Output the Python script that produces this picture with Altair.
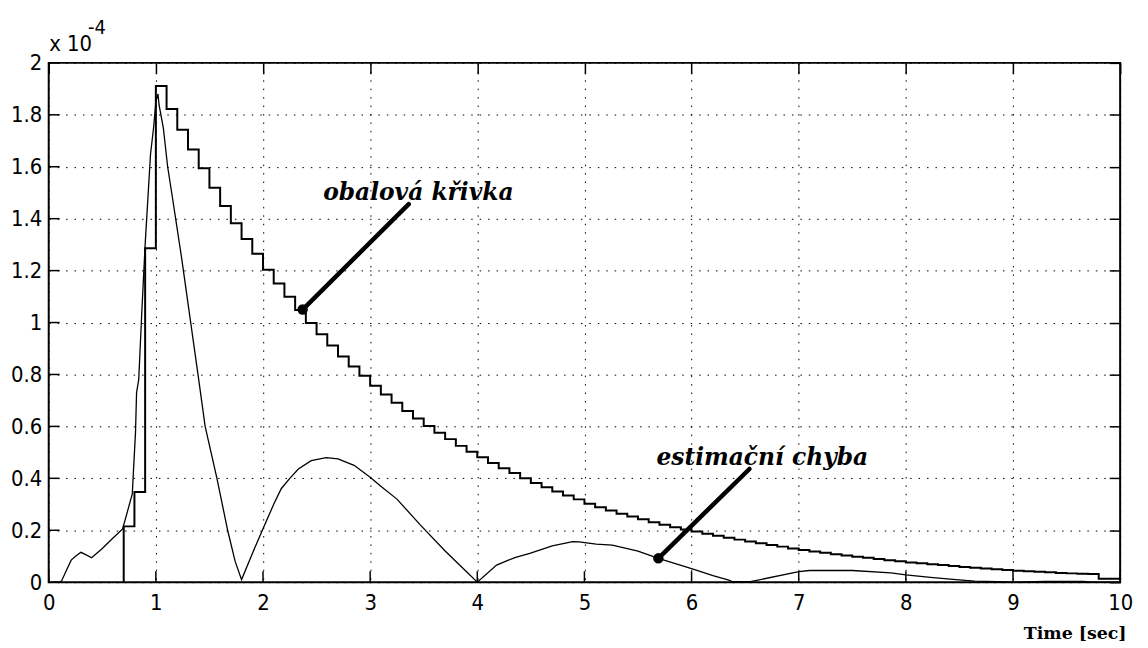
import altair as alt
import pandas as pd

# ---------------- data (values in units of 1e-4) -------------
env_t = [0.7,
         0.7, 0.8, 0.9, 1.0, 1.1, 1.2, 1.3, 1.4, 1.5, 1.6,
         1.7, 1.8, 1.9, 2.0, 2.1, 2.2, 2.3, 2.4, 2.5, 2.6,
         2.7, 2.8, 2.9, 3.0, 3.1, 3.2, 3.3, 3.4, 3.5, 3.6,
         3.7, 3.8, 3.9, 4.0, 4.1, 4.2, 4.3, 4.4, 4.5, 4.6,
         4.7, 4.8, 4.9, 5.0, 5.1, 5.2, 5.3, 5.4, 5.5, 5.6,
         5.7, 5.8, 5.9, 6.0, 6.1, 6.2, 6.3, 6.4, 6.5, 6.6,
         6.7, 6.8, 6.9, 7.0, 7.1, 7.2, 7.3, 7.4, 7.5, 7.6,
         7.7, 7.8, 7.9, 8.0, 8.1, 8.2, 8.3, 8.4, 8.5, 8.6,
         8.7, 8.8, 8.9, 9.0, 9.1, 9.2, 9.3, 9.4, 9.5, 9.6,
         9.7, 9.8, 9.9, 10.0]
env_v = [0.0,
         0.215, 0.347, 1.286, 1.911, 1.822, 1.742, 1.666, 1.594, 1.519, 1.449,
         1.382, 1.322, 1.265, 1.203, 1.150, 1.099, 1.048, 0.998, 0.955, 0.912,
         0.869, 0.831, 0.795, 0.757, 0.723, 0.691, 0.659, 0.630, 0.602, 0.576,
         0.551, 0.525, 0.502, 0.481, 0.459, 0.439, 0.421, 0.400, 0.382, 0.366,
         0.349, 0.334, 0.319, 0.302, 0.289, 0.276, 0.264, 0.253, 0.242, 0.231,
         0.221, 0.212, 0.203, 0.195, 0.187, 0.179, 0.171, 0.164, 0.157, 0.150,
         0.143, 0.137, 0.130, 0.124, 0.118, 0.113, 0.108, 0.103, 0.098, 0.094,
         0.089, 0.085, 0.081, 0.076, 0.073, 0.069, 0.066, 0.062, 0.059, 0.056,
         0.053, 0.050, 0.047, 0.044, 0.042, 0.040, 0.038, 0.035, 0.034, 0.033,
         0.032, 0.013, 0.013, 0.013]

err_t = [0.10, 0.12, 0.17, 0.21, 0.25, 0.30, 0.35, 0.40, 0.50, 0.60,
         0.69, 0.78, 0.79, 0.81, 0.82, 0.84, 0.87, 0.90, 0.95, 0.98,
         1.00, 1.02, 1.03, 1.07, 1.11, 1.15, 1.24, 1.40, 1.46, 1.57,
         1.67, 1.74, 1.80, 1.90, 2.00, 2.10, 2.17, 2.25, 2.33, 2.45,
         2.59, 2.70, 2.85, 3.00, 3.10, 3.25, 3.47, 3.70, 3.90, 4.00,
         4.18, 4.35, 4.49, 4.70, 4.89, 4.95, 5.11, 5.26, 5.50, 5.69,
         6.00, 6.20, 6.34, 6.38, 6.55, 7.00, 7.10, 7.50, 7.86, 8.00,
         8.23, 8.44, 8.64, 8.85, 9.00, 9.30, 9.65, 9.75, 10.0]
err_v = [0.000, 0.005, 0.050, 0.085, 0.100, 0.115, 0.105, 0.094, 0.130, 0.170,
         0.205, 0.340, 0.420, 0.576, 0.730, 0.780, 1.050, 1.300, 1.647, 1.755,
         1.850, 1.880, 1.838, 1.749, 1.600, 1.494, 1.250, 0.780, 0.600, 0.400,
         0.200, 0.080, 0.010, 0.110, 0.206, 0.300, 0.360, 0.400, 0.436, 0.468,
         0.480, 0.475, 0.450, 0.404, 0.370, 0.320, 0.220, 0.120, 0.040, 0.000,
         0.066, 0.095, 0.111, 0.140, 0.156, 0.155, 0.147, 0.143, 0.120, 0.092,
         0.052, 0.025, 0.009, 0.002, 0.002, 0.041, 0.045, 0.045, 0.036, 0.028,
         0.019, 0.011, 0.004, 0.002, 0.000, 0.003, 0.003, 0.000, 0.000]

ann_labels = ["obalová křivka", "estimační chyba"]
ann_text_x = [3.45, 6.66]
ann_text_y = [1.50, 0.48]
arrow_x0 = [2.37, 5.69]
arrow_y0 = [1.05, 0.092]
arrow_x1 = [3.36, 6.54]
arrow_y1 = [1.456, 0.436]

x_ticks = [0, 1, 2, 3, 4, 5, 6, 7, 8, 9, 10]
y_ticks = [0, 0.2, 0.4, 0.6, 0.8, 1.0, 1.2, 1.4, 1.6, 1.8, 2.0]

# ---------------- tables -------------
env_df = pd.DataFrame({"t": env_t, "v": env_v, "i": list(range(len(env_t)))})
err_df = pd.DataFrame({"t": err_t, "v": err_v, "i": list(range(len(err_t)))})
ann_df = pd.DataFrame({"label": ann_labels, "tx": ann_text_x, "ty": ann_text_y,
                       "x0": arrow_x0, "y0": arrow_y0, "x1": arrow_x1, "y1": arrow_y1})
xt_df = pd.DataFrame({"t": x_ticks})
yt_df = pd.DataFrame({"v": y_ticks})

W, H = 1079, 523
TICK_LEN = 11
LAB_FONT = "Liberation Sans Narrow, DejaVu Sans Condensed, sans-serif"
xs = alt.Scale(domain=[0, 10], nice=False, zero=False)
ys = alt.Scale(domain=[0, 2], nice=False, zero=False)

tick_common = dict(labels=False, domain=False, grid=False, ticks=True, tickSize=TICK_LEN,
                   tickColor="black", tickWidth=1.5, tickOpacity=1, zindex=2)

x_lab = alt.Axis(values=x_ticks, format="d", labelFont=LAB_FONT, labelFontSize=22,
                 labelColor="black", labelPadding=10, ticks=False, tickSize=0,
                 domain=False, grid=True, gridColor="black", gridDash=[1.5, 7],
                 gridWidth=1, gridOpacity=1, labelFlush=False, labelOverlap=False,
                 title="Time [sec]", titleFont="DejaVu Serif", titleFontWeight="bold",
                 titleFontSize=17.5, titleColor="black", titleAlign="right",
                 titleBaseline="alphabetic", titleX=1085, titleY=57)
y_lab = alt.Axis(values=y_ticks, format="~g", labelFont=LAB_FONT, labelFontSize=22,
                 labelColor="black", labelPadding=7, ticks=False, tickSize=0,
                 domain=False, grid=True, gridColor="black", gridDash=[1.5, 7],
                 gridWidth=1, gridOpacity=1, labelFlush=False, labelOverlap=False,
                 title="x 10", titleAngle=0, titleAlign="left", titleBaseline="alphabetic",
                 titleX=0, titleY=-12, titleFont=LAB_FONT, titleFontWeight="normal",
                 titleFontSize=22, titleColor="black")
x_tick_top = alt.Axis(orient="bottom", offset=-H, values=x_ticks, title=None, **tick_common)
y_tick_right = alt.Axis(orient="left", offset=-W, values=y_ticks, title="-4", titleAngle=0,
                        titleAlign="left", titleBaseline="alphabetic", titleX=39 - W,
                        titleY=-30, titleFont=LAB_FONT, titleFontWeight="normal",
                        titleFontSize=20, titleColor="black", **tick_common)

env_line = alt.Chart(env_df).mark_line(interpolate="step-after", color="black",
                                       strokeWidth=2).encode(
    x=alt.X("t:Q", scale=xs, axis=x_lab),
    y=alt.Y("v:Q", scale=ys, axis=y_lab),
    order="i:Q")

err_line = alt.Chart(err_df).mark_line(color="black", strokeWidth=1.3).encode(
    x=alt.X("t:Q", scale=xs, axis=None),
    y=alt.Y("v:Q", scale=ys, axis=None),
    order="i:Q")

# inward ticks along the bottom and left edges of the frame
bottom_ticks = alt.Chart(xt_df).mark_rule(color="black", strokeWidth=1.5).encode(
    x=alt.X("t:Q", scale=xs, axis=None),
    y=alt.value(H), y2=alt.value(H - TICK_LEN))
left_ticks = alt.Chart(yt_df).mark_rule(color="black", strokeWidth=1.5).encode(
    y=alt.Y("v:Q", scale=ys, axis=None),
    x=alt.value(0), x2=alt.value(TICK_LEN))

arrows = alt.Chart(ann_df).mark_rule(color="black", strokeWidth=4.5, strokeCap="round").encode(
    x=alt.X("x0:Q", scale=xs, axis=x_tick_top),
    y=alt.Y("y0:Q", scale=ys, axis=y_tick_right),
    x2="x1:Q", y2="y1:Q")

dots = alt.Chart(ann_df).mark_circle(color="black", opacity=1, size=110).encode(
    x=alt.X("x0:Q", scale=xs, axis=None),
    y=alt.Y("y0:Q", scale=ys, axis=None))

texts = alt.Chart(ann_df).mark_text(font="DejaVu Serif", fontWeight="bold", fontStyle="italic",
                                    fontSize=23.5, color="black", align="center",
                                    baseline="middle").encode(
    x=alt.X("tx:Q", scale=xs, axis=None),
    y=alt.Y("ty:Q", scale=ys, axis=None),
    text="label:N")

chart = alt.layer(env_line, err_line, bottom_ticks, left_ticks, arrows, dots, texts).resolve_axis(
    x="independent", y="independent"
).properties(
    width=W, height=H, autosize="none",
    padding={"left": 41, "top": 53, "right": 20, "bottom": 64},
    background="white"
).configure_view(stroke="black", strokeWidth=2)

chart.save("out.html", embed_options={"renderer": "svg", "actions": False})
